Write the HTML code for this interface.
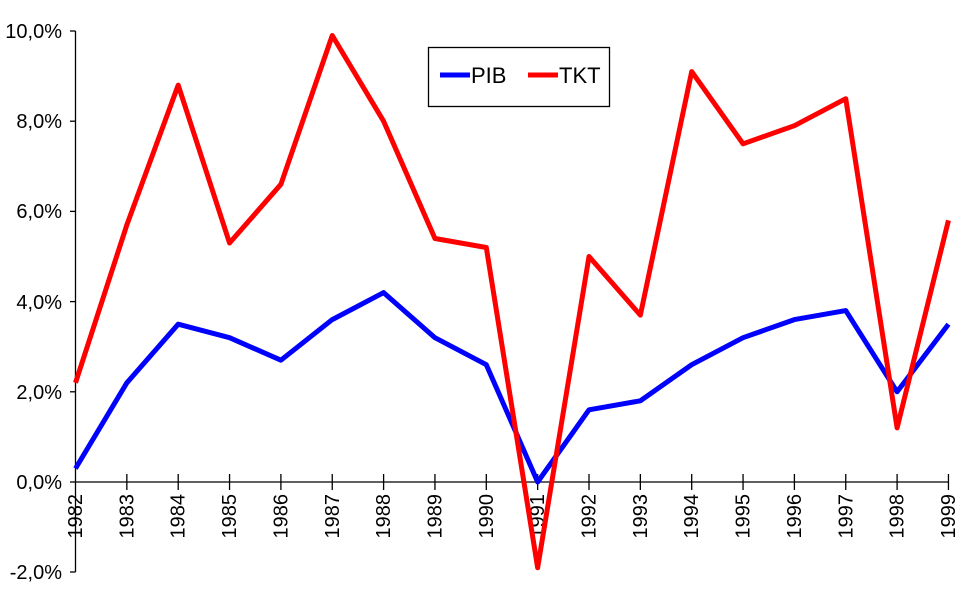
<!DOCTYPE html>
<html><head><meta charset="utf-8"><style>
html,body{margin:0;padding:0;background:#fff;}
svg text{font-family:"Liberation Sans",Arial,sans-serif;font-size:20px;fill:#000;}
</style></head><body>
<svg width="969" height="603" viewBox="0 0 969 603" xmlns="http://www.w3.org/2000/svg">
<g stroke="#000" stroke-width="1.3" fill="none">
<line x1="75.5" y1="31" x2="75.5" y2="572"/>
<line x1="75.5" y1="482" x2="949" y2="482"/>
<line x1="70" y1="31" x2="75.5" y2="31"/>
<line x1="70" y1="121.2" x2="75.5" y2="121.2"/>
<line x1="70" y1="211.4" x2="75.5" y2="211.4"/>
<line x1="70" y1="301.6" x2="75.5" y2="301.6"/>
<line x1="70" y1="391.8" x2="75.5" y2="391.8"/>
<line x1="70" y1="482" x2="75.5" y2="482"/>
<line x1="70" y1="572" x2="75.5" y2="572"/>
<path d="M126.85 474v16M178.2 474v16M229.55 474v16M280.9 474v16M332.25 474v16M383.6 474v16M434.95 474v16M486.3 474v16M537.65 474v16M589 474v16M640.35 474v16M691.7 474v16M743.05 474v16M794.4 474v16M845.75 474v16M897.1 474v16M948.45 474v16"/>
</g>
<g text-anchor="end">
<text x="62" y="38">10,0%</text>
<text x="62" y="128">8,0%</text>
<text x="62" y="218">6,0%</text>
<text x="62" y="309">4,0%</text>
<text x="62" y="399">2,0%</text>
<text x="62" y="489">0,0%</text>
<text x="62" y="579">-2,0%</text>
</g>
<g text-anchor="end" style="font-size:19px">
<text transform="translate(82,494) rotate(-90)">1982</text>
<text transform="translate(133.35,494) rotate(-90)">1983</text>
<text transform="translate(184.7,494) rotate(-90)">1984</text>
<text transform="translate(236.05,494) rotate(-90)">1985</text>
<text transform="translate(287.4,494) rotate(-90)">1986</text>
<text transform="translate(338.75,494) rotate(-90)">1987</text>
<text transform="translate(390.1,494) rotate(-90)">1988</text>
<text transform="translate(441.45,494) rotate(-90)">1989</text>
<text transform="translate(492.8,494) rotate(-90)">1990</text>
<text transform="translate(544.15,494) rotate(-90)">1991</text>
<text transform="translate(595.5,494) rotate(-90)">1992</text>
<text transform="translate(646.85,494) rotate(-90)">1993</text>
<text transform="translate(698.2,494) rotate(-90)">1994</text>
<text transform="translate(749.55,494) rotate(-90)">1995</text>
<text transform="translate(800.9,494) rotate(-90)">1996</text>
<text transform="translate(852.25,494) rotate(-90)">1997</text>
<text transform="translate(903.6,494) rotate(-90)">1998</text>
<text transform="translate(954.95,494) rotate(-90)">1999</text>
</g>
<polyline fill="none" stroke="#0000ff" stroke-width="5" stroke-linejoin="round" points="75.5,468.5 126.85,382.8 178.2,324.2 229.55,337.7 280.9,360.2 332.25,319.6 383.6,292.6 434.95,337.7 486.3,364.7 537.65,482 589,409.8 640.35,400.8 691.7,364.7 743.05,337.7 794.4,319.6 845.75,310.6 897.1,391.8 948.45,324.2"/>
<polyline fill="none" stroke="#ff0000" stroke-width="5" stroke-linejoin="round" points="75.5,382.8 126.85,224.9 178.2,85.1 229.55,243 280.9,184.3 332.25,35.5 383.6,121.2 434.95,238.5 486.3,247.5 537.65,567.7 589,256.5 640.35,315.1 691.7,71.6 743.05,143.8 794.4,125.7 845.75,98.7 897.1,427.9 948.45,220.4"/>
<rect x="428.5" y="47.5" width="181" height="59" fill="#fff" stroke="#000" stroke-width="1.3"/>
<line x1="440" y1="75" x2="470" y2="75" stroke="#0000ff" stroke-width="5"/>
<text x="471" y="83" style="font-size:22px">PIB</text>
<line x1="528" y1="75" x2="558" y2="75" stroke="#ff0000" stroke-width="5"/>
<text x="559" y="83" style="font-size:22px">TKT</text>
</svg>
</body></html>
